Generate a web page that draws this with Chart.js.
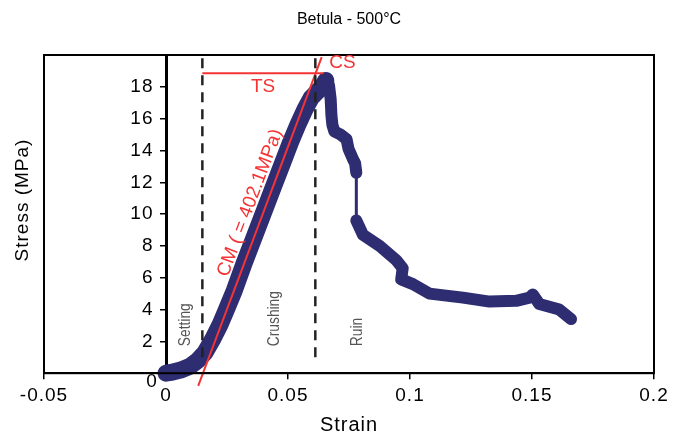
<!DOCTYPE html>
<html>
<head>
<meta charset="utf-8">
<script src="https://cdn.jsdelivr.net/npm/chart.js@4/dist/chart.umd.min.js"></script>
<style>
  html, body { margin: 0; padding: 0; background: #fff; }
  #wrap { width: 683px; height: 435px; }
</style>
</head>
<body>
<div id="wrap"><canvas id="myChart" width="683" height="435"></canvas></div>
<script>
// courbe contrainte / deformation
const strain = [0.000, 0.002, 0.006, 0.010, 0.013, 0.016, 0.019, 0.022, 0.0245, 0.028,
  0.032, 0.036, 0.040, 0.044, 0.048, 0.051, 0.054, 0.057, 0.0595, 0.062,
  0.064, 0.0655, 0.0668, 0.0675, 0.0678, 0.0682, 0.069, 0.0715, 0.074, 0.0748,
  0.0765, 0.0775, 0.078, 0.078, 0.0807, 0.0876, 0.0944, 0.097, 0.0964, 0.1012,
  0.108, 0.1217, 0.1326, 0.1435, 0.149, 0.1503, 0.153, 0.1612, 0.166];
const stress = [0.0, 0.05, 0.2, 0.45, 0.8, 1.3, 2.1, 3.0, 3.9, 5.2,
  6.9, 8.5, 10.1, 11.7, 13.3, 14.5, 15.6, 16.6, 17.3, 17.7,
  18.0, 18.4, 18.1, 17.2, 16.2, 15.6, 15.2, 15.0, 14.7, 14.1,
  13.5, 13.2, 12.6, 9.6, 8.7, 8.0, 7.1, 6.6, 5.9, 5.6,
  5.0, 4.75, 4.5, 4.55, 4.75, 4.95, 4.35, 4.0, 3.4];

const xTicks = [-0.05, 0, 0.05, 0.1, 0.15, 0.2];
const yTicks = [0, 2, 4, 6, 8, 10, 12, 14, 16, 18];

// limites des zones (tirets)
const zoneLimits = [0.0149, 0.0612];
const zoneLimitStress = [1.0, 20];
const zoneLabels = ["Setting", "Crushing", "Ruin"];
const zoneLabelStrain = [0.0081, 0.0446, 0.0784];

// TS et CM
const tsStrain = [0.0149, 0.0645];
const tsStress = 18.85;
const cmStrain = [0.0132, 0.0638];
const cmStress = [-0.8, 19.87];
const cmLabel = "CM ( = 402.1MPa)";
const titre = "Betula - 500°C";

const navy = "#2e2d72";
const red = "#f43434";
const font = "'Liberation Sans', Arial, sans-serif";

const peak = stress.indexOf(Math.max(...stress));

const datasets = [
  {
    data: strain.map((x, i) => ({ x: x, y: stress[i] })),
    borderColor: navy,
    borderWidth: 14,
    borderJoinStyle: "round",
    borderCapStyle: "round",
    pointRadius: 0,
    showLine: true,
    clip: false,
    order: 1,
    segment: {
      borderWidth: (ctx) => {
        if (Math.abs(ctx.p1.parsed.y - ctx.p0.parsed.y) > 2) return 3;
        return ctx.p0DataIndex < peak ? 17 : 12;
      },
    },
  },
];

zoneLimits.forEach((lim) => {
  datasets.push({
    data: zoneLimitStress.map((s) => ({ x: lim, y: s })),
    borderColor: "#222",
    borderWidth: 2.5,
    borderDash: [10, 7],
    pointRadius: 0,
    showLine: true,
    order: 0,
  });
});

datasets.push({
  data: tsStrain.map((x) => ({ x: x, y: tsStress })),
  borderColor: red,
  borderWidth: 2,
  pointRadius: 0,
  showLine: true,
  order: 0,
});

datasets.push({
  data: cmStrain.map((x, i) => ({ x: x, y: cmStress[i] })),
  borderColor: red,
  borderWidth: 2,
  pointRadius: 0,
  showLine: true,
  clip: false,
  order: 0,
});

// cadre + textes
const extras = {
  id: "extras",
  beforeUpdate(chart) {
    chart.ctx.letterSpacing = "1px";
  },
  afterDraw(chart) {
    const { ctx, chartArea: a, scales } = chart;
    const sx = scales.x, sy = scales.y;
    ctx.save();
    ctx.strokeStyle = "#000";
    ctx.lineWidth = 2;
    ctx.strokeRect(a.left, a.top, a.right - a.left, a.bottom - a.top);

    // titre
    ctx.letterSpacing = "0px";
    ctx.fillStyle = "#000";
    ctx.font = "16px " + font;
    ctx.textAlign = "center";
    ctx.textBaseline = "middle";
    ctx.fillText(titre, (a.left + a.right) / 2, 20);

    ctx.fillStyle = red;
    ctx.font = "19px " + font;
    ctx.fillText("TS", sx.getPixelForValue(0.0398), sy.getPixelForValue(18.03));
    ctx.textAlign = "left";
    ctx.fillText("CS", sx.getPixelForValue(0.0669), sy.getPixelForValue(19.53));

    // CM le long de la droite
    const x1 = sx.getPixelForValue(cmStrain[0]), y1 = sy.getPixelForValue(cmStress[0]);
    const x2 = sx.getPixelForValue(cmStrain[1]), y2 = sy.getPixelForValue(cmStress[1]);
    const ang = Math.atan2(y2 - y1, x2 - x1);
    ctx.save();
    ctx.translate(sx.getPixelForValue(0.0345), sy.getPixelForValue(10.7));
    ctx.rotate(ang);
    ctx.textAlign = "center";
    ctx.font = "19px " + font;
    ctx.fillText(cmLabel, 0, 0);
    ctx.restore();

    // zones
    ctx.fillStyle = "#555";
    ctx.font = "16px " + font;
    zoneLabels.forEach((t, i) => {
      ctx.save();
      ctx.translate(sx.getPixelForValue(zoneLabelStrain[i]), sy.getPixelForValue(1.7));
      ctx.rotate(-Math.PI / 2);
      ctx.scale(0.86, 1);
      ctx.textAlign = "left";
      ctx.textBaseline = "middle";
      ctx.fillText(t, 0, 0);
      ctx.restore();
    });

    // "0" de l'axe y
    ctx.fillStyle = "#000";
    ctx.font = "19px " + font;
    ctx.textAlign = "center";
    ctx.fillText("0", sx.getPixelForValue(-0.0059), sy.getPixelForValue(-0.56));

    // titre axe y
    ctx.save();
    ctx.translate(23, 200);
    ctx.rotate(-Math.PI / 2);
    ctx.textAlign = "center";
    ctx.letterSpacing = "1px";
    ctx.fillText("Stress (MPa)", 0, 0);
    ctx.restore();
    ctx.restore();
  },
};

Chart.defaults.font.family = font;
Chart.defaults.color = "#000";

new Chart(document.getElementById("myChart").getContext("2d"), {
  type: "scatter",
  data: { datasets: datasets },
  options: {
    responsive: false,
    animation: false,
    layout: { padding: { left: 44, right: 29, top: 55, bottom: 0 } },
    plugins: {
      legend: { display: false },
      tooltip: { enabled: false },
      title: { display: false },
    },
    scales: {
      x: {
        type: "linear",
        min: -0.05,
        max: 0.2,
        afterBuildTicks: (s) => { s.ticks = xTicks.map((v) => ({ value: v })); },
        ticks: {
          font: { size: 19 },
          padding: 5,
          callback: (v) => String(Number(v.toFixed(2))),
        },
        grid: { drawOnChartArea: false, tickLength: 6, color: "#000", lineWidth: 1.5 },
        border: { color: "#000", width: 2 },
        title: { display: true, text: "Strain", font: { size: 20, lineHeight: 1.0 }, padding: { top: 3, bottom: 0 } },
      },
      y: {
        type: "linear",
        position: { x: 0 },
        min: 0,
        max: 20,
        afterBuildTicks: (s) => { s.ticks = yTicks.map((v) => ({ value: v })); },
        ticks: {
          font: { size: 19 },
          callback: (v) => (v === 0 ? "" : v + "  "),
        },
        grid: { drawOnChartArea: false, tickLength: 5, color: "#000", lineWidth: 1.5 },
        border: { color: "#000", width: 3 },
      },
    },
  },
  plugins: [extras],
});
</script>
</body>
</html>
